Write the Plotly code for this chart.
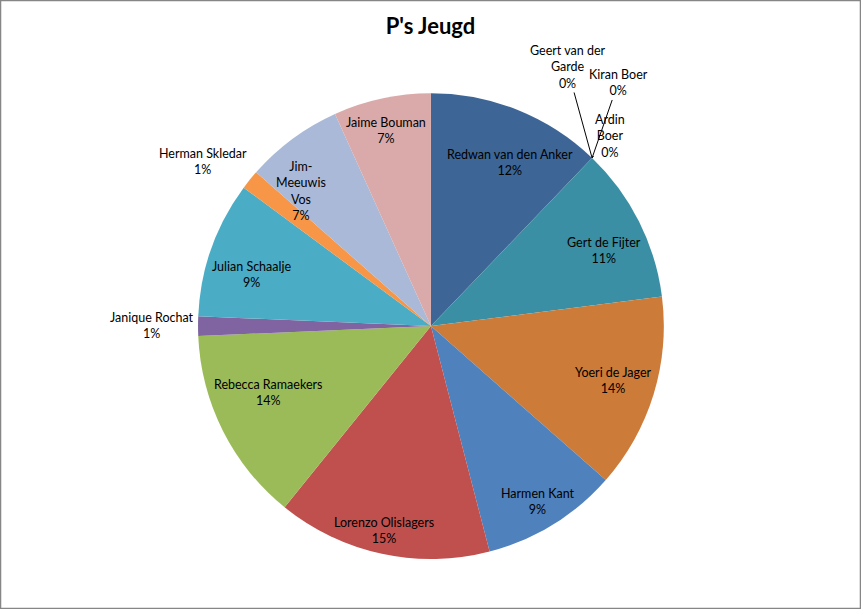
import math
import plotly.graph_objects as go

# ---- data ----
names = ["Redwan van den Anker", "Geert van der Garde", "Kiran Boer", "Ardin Boer",
         "Gert de Fijter", "Yoeri de Jager", "Harmen Kant", "Lorenzo Olislagers",
         "Rebecca Ramaekers", "Janique Rochat", "Julian Schaalje", "Herman Skledar",
         "Jim-Meeuwis Vos", "Jaime Bouman"]
values = [9, 0, 0, 0, 8, 10, 7, 11, 10, 1, 7, 1, 5, 5]
label_text = ["Redwan van den Anker", "Geert van der<br>Garde", "Kiran Boer", "Ardin<br>Boer",
              "Gert de Fijter", "Yoeri de Jager", "Harmen Kant", "Lorenzo Olislagers",
              "Rebecca Ramaekers", "Janique Rochat", "Julian Schaalje", "Herman Skledar",
              "Jim-<br>Meeuwis<br>Vos", "Jaime Bouman"]

# ---- style ----
colors = ["#3D6696", "#9D3E3B", "#7E9A47", "#664F84", "#3A8FA4", "#CC7B38",
          "#4F81BD", "#C0504D", "#9BBB59", "#8064A2", "#4BACC6", "#F79646",
          "#AAB9D7", "#D9AAA9"]
W, H = 861, 609
dom_x = [0.23, 0.771]
dom_y = [0.082, 0.847]
FONT = "Lato"
FS = 12.5

# label nudges in pixels (right, down), mimicking Excel's best-fit placement
nudges = {"Redwan van den Anker": (8, 14), "Gert de Fijter": (3, 10), "Yoeri de Jager": (0, -2),
          "Harmen Kant": (7, 13), "Lorenzo Olislagers": (-7, 18), "Rebecca Ramaekers": (8, -20),
          "Julian Schaalje": (1, 12), "Jim-Meeuwis Vos": (-16, 18), "Jaime Bouman": (-5, -9),
          "Herman Skledar": (-10, 11), "Janique Rochat": (1, -1)}
zero_offsets = {"Geert van der Garde": (-25, -91), "Kiran Boer": (26, -75), "Ardin Boer": (18, -22)}
outside = {"Janique Rochat", "Herman Skledar"}

fig = go.Figure(go.Pie(
    labels=names, values=values, sort=False, direction="clockwise", rotation=0,
    marker=dict(colors=colors, line=dict(width=0)),
    textinfo="none", hoverinfo="label+value+percent",
    domain=dict(x=dom_x, y=dom_y), showlegend=False,
))

# label placement derived from the values
cx = (dom_x[0] + dom_x[1]) / 2
cy = (dom_y[0] + dom_y[1]) / 2
R = min((dom_x[1] - dom_x[0]) * W, (dom_y[1] - dom_y[0]) * H) / 2
total = sum(values)

annotations = []
cum = 0
for name, v, txt in zip(names, values, label_text):
    pct = f"{round(v / total * 100)}%"
    mid = (cum + v / 2) / total * 2 * math.pi
    if v == 0:
        ex = cx + R * math.sin(mid) / W
        ey = cy + R * math.cos(mid) / H
        ax, ay = zero_offsets[name]
        annotations.append(dict(x=ex, y=ey, xref="paper", yref="paper", text=f"{txt}<br>{pct}",
                                showarrow=True, arrowhead=0, arrowwidth=1, arrowcolor="#000000",
                                ax=ax, ay=ay, standoff=0, startstandoff=0,
                                font=dict(family=FONT, size=FS, color="#000000")))
    else:
        f = 1.2 if name in outside else 0.82
        lx = cx + f * R * math.sin(mid) / W
        ly = cy + f * R * math.cos(mid) / H
        dx, dy = nudges.get(name, (0, 0))
        annotations.append(dict(x=lx, y=ly, xref="paper", yref="paper", text=f"{txt}<br>{pct}",
                                showarrow=False, xanchor="center", yanchor="middle",
                                xshift=dx, yshift=-dy,
                                font=dict(family=FONT, size=FS, color="#000000")))
    cum += v

fig.update_layout(
    width=W, height=H,
    margin=dict(l=0, r=0, t=0, b=0),
    paper_bgcolor="white", plot_bgcolor="white",
    title=dict(text="<b>P's Jeugd</b>", x=0.5, xanchor="center", y=1 - 26 / H, yanchor="middle",
               font=dict(family=FONT, size=22, color="#000000")),
    annotations=annotations,
    shapes=[dict(type="rect", xref="paper", yref="paper", x0=0.0006, y0=0.0008, x1=0.9994, y1=0.9992,
                 line=dict(color="#868686", width=1.5))],
)

fig.write_html("out.html", config={"displayModeBar": False},
               post_script="document.body.style.margin='0';document.body.style.overflow='hidden';")
